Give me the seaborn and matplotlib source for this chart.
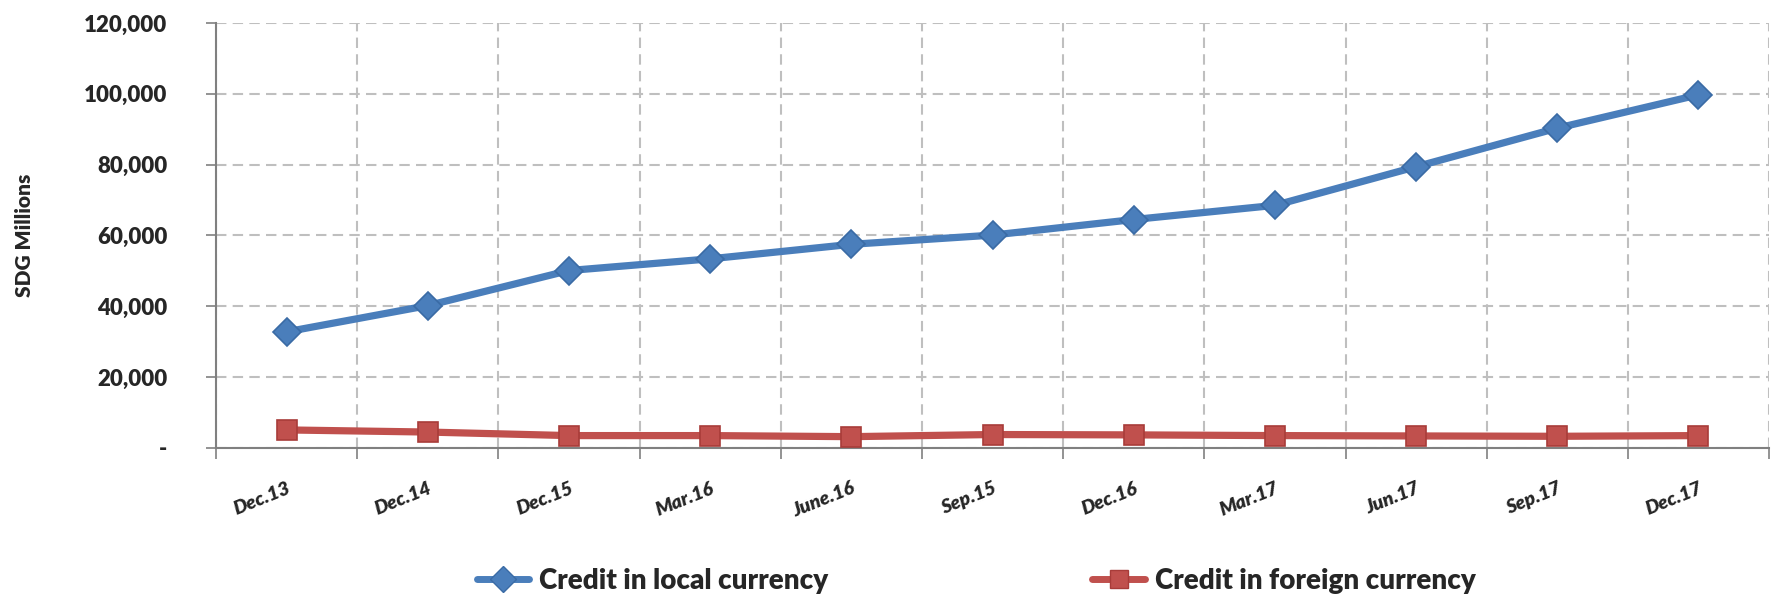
import numpy as np
import pandas as pd
import matplotlib
matplotlib.use("Agg")
import matplotlib.pyplot as plt
import matplotlib.transforms as mtransforms
import seaborn as sns
from matplotlib.ticker import FuncFormatter, FixedLocator

# ------------------------------------------------------------------
# Data
# ------------------------------------------------------------------
periods = ["Dec.13", "Dec.14", "Dec.15", "Mar.16", "June.16", "Sep.15",
           "Dec.16", "Mar.17", "Jun.17", "Sep.17", "Dec.17"]
local_credit = [32800, 40200, 50100, 53400, 57500, 60100,
                64500, 68500, 79400, 90300, 99700]
foreign_credit = [5100, 4500, 3500, 3500, 3200, 3800,
                  3700, 3500, 3400, 3300, 3500]
series_names = ["Credit in local currency", "Credit in foreign currency"]
y_ticks = [0, 20000, 40000, 60000, 80000, 100000, 120000]

df = pd.DataFrame({
    "period": periods * 2,
    "value": local_credit + foreign_credit,
    "series": [series_names[0]] * len(periods) + [series_names[1]] * len(periods),
})

sns.set_style("white")
plt.rcParams["font.family"] = ["Lato", "DejaVu Sans"]

fig = plt.figure(figsize=(17.81, 5.97), dpi=100)
ax = fig.add_axes([0.1213, 0.2496, 0.872, 0.712])

palette = {series_names[0]: "#4A7EBB", series_names[1]: "#C0504D"}
markers = {series_names[0]: "D", series_names[1]: "s"}
edges = ["#3A6BA5", "#A83C39"]

sns.lineplot(
    data=df, x="period", y="value", hue="series", style="series",
    markers=markers, dashes=False, palette=palette, ax=ax,
    linewidth=5.2, markersize=14, markeredgewidth=1.2,
    sort=False, legend=False, clip_on=False, zorder=3,
)
for line, edge in zip(ax.lines, edges):
    line.set_markeredgecolor(edge)

n = len(periods)
ax.set_xlim(-0.5, n - 0.5)
ax.set_ylim(0, 120000)

# y axis
ax.yaxis.set_major_locator(FixedLocator(y_ticks))
ax.yaxis.set_major_formatter(FuncFormatter(lambda v, p: "-" if v == 0 else f"{int(v):,}"))
ax.tick_params(axis="y", length=7, width=1.2, color="#808080", pad=28,
               labelsize=16, left=True)
for lab in ax.get_yticklabels():
    lab.set_fontweight("heavy")
ax.set_ylabel("SDG Millions", fontsize=15, fontweight="heavy", labelpad=36)

# x axis: labels at category centres, ticks/grid at boundaries
ax.xaxis.set_major_locator(FixedLocator(np.arange(n)))
ax.xaxis.set_minor_locator(FixedLocator(np.arange(n + 1) - 0.5))
ax.set_xticks(np.arange(n))
ax.set_xticklabels(periods, rotation=22, ha="right", rotation_mode="anchor",
                   fontsize=14, fontweight="heavy", fontstyle="italic")
shift = mtransforms.ScaledTranslation(0.02, 0, fig.dpi_scale_trans)
for lab in ax.get_xticklabels():
    lab.set_transform(lab.get_transform() + shift)
ax.tick_params(axis="x", which="major", length=0, pad=23)
ax.tick_params(axis="x", which="minor", length=8, width=1.2, color="#808080",
               bottom=True)
ax.set_xlabel("")

# grid
ax.grid(False)
ax.yaxis.grid(True, which="major", linestyle=(0, (5, 3)), color="#BFBFBF", linewidth=1.5)
ax.xaxis.grid(True, which="minor", linestyle=(0, (5, 3)), color="#BFBFBF", linewidth=1.5)
ax.set_axisbelow(True)

for side in ["top", "right"]:
    ax.spines[side].set_visible(False)
for side in ["left", "bottom"]:
    ax.spines[side].set_color("#808080")
    ax.spines[side].set_linewidth(1.5)

# legend at the bottom
handles = [
    plt.Line2D([], [], color=palette[s], marker=markers[s], linewidth=5,
               markersize=13, markeredgecolor=e)
    for s, e in zip(series_names, edges)
]
fig.legend(handles, series_names, loc="center", bbox_to_anchor=(0.548, 0.027),
           ncol=2, frameon=False, columnspacing=9.5, handlelength=1.9,
           handletextpad=0.35, prop={"size": 20, "weight": "heavy"})

fig.savefig("out.png", dpi=100)
